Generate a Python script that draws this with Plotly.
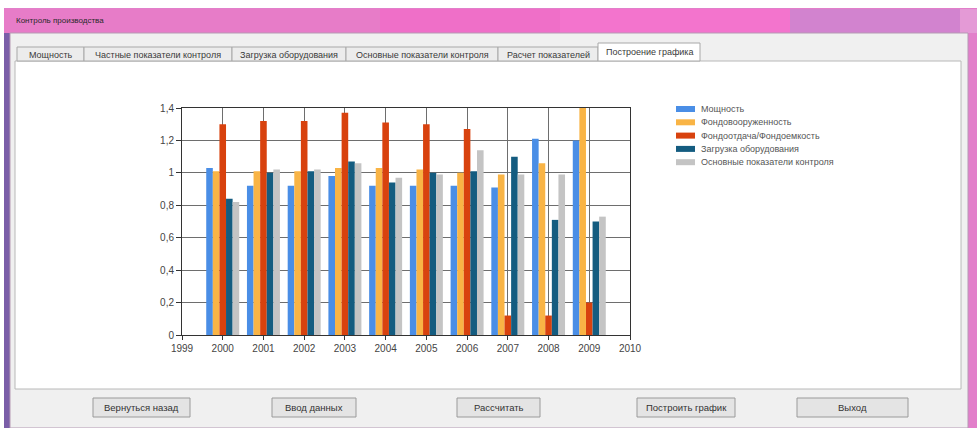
import plotly.graph_objects as go

years = [2000, 2001, 2002, 2003, 2004, 2005, 2006, 2007, 2008, 2009]
series_names = ["Мощность", "Фондовооруженность", "Фондоотдача/Фондоемкость",
                "Загрузка оборудования", "Основные показатели контроля"]
moshnost = [1.03, 0.92, 0.92, 0.98, 0.92, 0.92, 0.92, 0.91, 1.21, 1.20]
fondovoor = [1.01, 1.01, 1.01, 1.03, 1.03, 1.02, 1.00, 0.99, 1.06, 1.45]
fondootdacha = [1.30, 1.32, 1.32, 1.37, 1.31, 1.30, 1.27, 0.12, 0.12, 0.20]
zagruzka = [0.84, 1.00, 1.01, 1.07, 0.94, 1.00, 1.01, 1.10, 0.71, 0.70]
osnovnye = [0.82, 1.02, 1.02, 1.06, 0.97, 0.99, 1.14, 0.99, 0.99, 0.73]
colors = ["#4a8ee6", "#f9b445", "#d8420e", "#145c80", "#c4c4c4"]
tabs = ["Мощность", "Частные показатели контроля", "Загрузка оборудования",
        "Основные показатели контроля", "Расчет показателей", "Построение графика"]
buttons = ["Вернуться назад", "Ввод данных", "Рассчитать", "Построить график", "Выход"]
window_title = "Контроль производства"

W, H = 977, 428
L, R, T, B = 182, 630, 108, 335

def px(x):
    return (x - L) / (R - L)

def py(y):
    return (B - y) / (B - T)

fig = go.Figure()
for name, vals, c in zip(series_names, [moshnost, fondovoor, fondootdacha, zagruzka, osnovnye], colors):
    fig.add_trace(go.Bar(x=years, y=vals, name=name, marker=dict(color=c, line=dict(width=0))))

shapes = []
ann = []

def rect(x0, y0, x1, y1, fill, line=None):
    shapes.append(dict(type="rect", xref="paper", yref="paper", x0=px(x0), x1=px(x1), y0=py(y0), y1=py(y1),
                       fillcolor=fill, line=line or dict(width=0), layer="below"))

def text(t, x, y, size, anchor="center", color="#333333", family="Liberation Sans, Arial"):
    ann.append(dict(text=t, xref="paper", yref="paper", x=px(x), y=py(y), xanchor=anchor, yanchor="middle",
                    showarrow=False, font=dict(size=size, color=color, family=family)))

# window frame and title bar
rect(4, 8, 977, 428, "#e27fca")
rect(4, 9, 380, 33, "#e77cc8")
rect(380, 9, 560, 33, "#ef6fc8")
rect(560, 9, 790, 33, "#f374cd")
rect(790, 9, 960, 33, "#d283cf")
rect(960, 9, 977, 33, "#e49ad6")
rect(4, 33, 10, 428, "#7b5ea8")
# client area
rect(10, 33, 968, 428, "#f0f0f0", dict(color="#b59ab4", width=1))
# tab panel
rect(15, 61, 961, 389, "#ffffff", dict(color="#b8b8b8", width=1))
text(window_title, 14, 21, 8, anchor="left", color="#2a2a2a")

tab_edges = [17, 84, 232, 346, 498, 598, 700]
for i, t in enumerate(tabs):
    x0, x1 = tab_edges[i], tab_edges[i + 1]
    active = i == len(tabs) - 1
    rect(x0, 61, x1, 43 if active else 47, "#ffffff" if active else "#ececec", dict(color="#a8a8a8", width=1))
    text(t, (x0 + x1) / 2, 52 if active else 55, 9, color="#3a3a3a")

btn_edges = [(93, 190), (272, 356), (457, 540), (637, 735), (797, 908)]
for t, (x0, x1) in zip(buttons, btn_edges):
    rect(x0, 398, x1, 417, "#e4e4e4", dict(color="#9a9a9a", width=1))
    text(t, (x0 + x1) / 2, 407.5, 9.5, color="#333333")

# custom compact legend (WinForms-chart style)
for i, (name, c) in enumerate(zip(series_names, colors)):
    yc = 109 + i * 13.3
    rect(676, yc - 3, 695, yc + 3, c)
    text(name, 699, yc, 9, anchor="left", color="#555555")

fig.update_layout(
    width=W, height=H,
    margin=dict(l=L, r=W - R, t=T, b=H - B),
    paper_bgcolor="#ffffff", plot_bgcolor="#ffffff",
    barmode="group", bargap=0.19, bargroupgap=0,
    separators=", ",
    font=dict(family="Liberation Sans, DejaVu Sans", size=10, color="#444444"),
    shapes=shapes, annotations=ann,
    showlegend=False,
)
fig.update_xaxes(range=[1999, 2010], tickmode="linear", tick0=1999, dtick=1,
                 showgrid=True, gridcolor="#6e6e6e", gridwidth=1,
                 showline=True, linecolor="#333333", mirror=True,
                 ticks="outside", ticklen=4, tickcolor="#333333",
                 tickfont=dict(size=10, color="#444444"), zeroline=False)
fig.update_yaxes(range=[0, 1.4], tickmode="linear", tick0=0, dtick=0.2,
                 showgrid=True, gridcolor="#6e6e6e", gridwidth=1,
                 showline=True, linecolor="#333333", mirror=True,
                 ticks="outside", ticklen=5, tickcolor="#333333",
                 tickfont=dict(size=10, color="#444444"), zeroline=False)
fig.write_html("out.html", config={"displayModeBar": False},
               post_script="document.body.style.margin='0';document.body.style.overflow='hidden';")
